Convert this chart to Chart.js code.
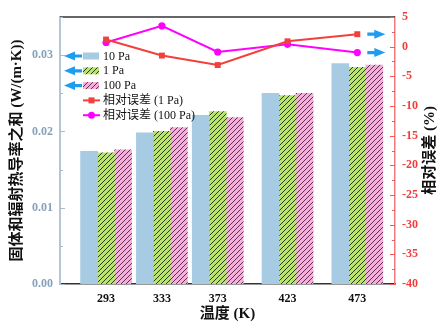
<!DOCTYPE html>
<html><head><meta charset="utf-8">
<script src="https://cdn.jsdelivr.net/npm/chart.js@4.4.0/dist/chart.umd.min.js"></script>
<style>html,body{margin:0;padding:0;background:#fff;}#wrap{width:445px;height:335px;}</style>
</head><body><div id="wrap"><canvas id="c" width="445" height="335"></canvas></div>
<script>
// ---- data ----
const temperatures = [293, 333, 373, 423, 473];
const k10Pa  = [0.0174, 0.0198, 0.0221, 0.0250, 0.0289];
const k1Pa   = [0.0172, 0.0200, 0.0226, 0.0247, 0.0284];
const k100Pa = [0.0176, 0.0205, 0.0218, 0.0250, 0.0287];
const err1Pa   = [1.2, -1.5, -3.1, 0.9, 2.1];
const err100Pa = [0.7, 3.5, -0.9, 0.4, -1.0];
const leftTicks  = [0, 0.01, 0.02, 0.03];
const rightTicks = [5, 0, -5, -10, -15, -20, -25, -30, -35, -40];
const seriesLabels = ['10 Pa', '1 Pa', '100 Pa', '相对误差 (1 Pa)', '相对误差 (100 Pa)'];
const xTitle = '温度 (K)';
const yTitle = '固体和辐射热导率之和 (W/(m·K))';
const y1Title = '相对误差 (%)';

const SERIF = "'Liberation Serif','Noto Sans CJK SC',serif";
const canvas = document.getElementById('c');
const cctx = canvas.getContext('2d');
function hatch(base, line) {
  const s = 5;
  const c = document.createElement('canvas'); c.width = s; c.height = s;
  const g = c.getContext('2d');
  g.fillStyle = base; g.fillRect(0, 0, s, s);
  g.strokeStyle = line; g.lineWidth = 1;
  g.beginPath();
  g.moveTo(0, s); g.lineTo(s, 0);
  g.moveTo(-1, 1); g.lineTo(1, -1);
  g.moveTo(s - 1, s + 1); g.lineTo(s + 1, s - 1);
  g.stroke();
  return cctx.createPattern(c, 'repeat');
}
const blueFill = '#a7cbe3';
const greenFill = hatch('#b9e46e', 'rgba(20,30,10,0.85)');
const pinkFill = hatch('#f7aedb', 'rgba(60,30,60,0.85)');
const redLine = '#f0413c';
const magLine = '#ff00ff';
const arrowColor = '#1e9cf0';

const pts = (ys) => temperatures.map((t, i) => ({x: t, y: ys[i]}));

const decor = {
  id: 'decor',
  afterDraw(chart) {
    const {ctx, chartArea: a, scales} = chart;
    const y = scales.y, y1 = scales.y1;
    ctx.save();
    // top frame line
    ctx.strokeStyle = '#333'; ctx.lineWidth = 1.5;
    ctx.beginPath(); ctx.moveTo(a.left, a.top); ctx.lineTo(a.right, a.top); ctx.stroke();
    // inward ticks, left
    ctx.strokeStyle = '#a9bccd'; ctx.lineWidth = 1;
    for (let i = 0; i < leftTicks.length; i++) {
      const v = leftTicks[i];
      const p = Math.round(y.getPixelForValue(v)) + 0.5;
      ctx.beginPath(); ctx.moveTo(a.left, p); ctx.lineTo(a.left + 5, p); ctx.stroke();
      const m = v + (leftTicks[1] - leftTicks[0]) / 2;
      if (m <= y.max) {
        const q = Math.round(y.getPixelForValue(m)) + 0.5;
        ctx.beginPath(); ctx.moveTo(a.left, q); ctx.lineTo(a.left + 3, q); ctx.stroke();
      }
    }
    // inward ticks, right
    ctx.strokeStyle = '#f05a5a';
    for (let i = 0; i < rightTicks.length; i++) {
      const v = rightTicks[i];
      const p = Math.round(y1.getPixelForValue(v)) + 0.5;
      ctx.beginPath(); ctx.moveTo(a.right, p); ctx.lineTo(a.right - 5, p); ctx.stroke();
      if (i < rightTicks.length - 1) {
        const m = (v + rightTicks[i + 1]) / 2;
        const q = Math.round(y1.getPixelForValue(m)) + 0.5;
        ctx.beginPath(); ctx.moveTo(a.right, q); ctx.lineTo(a.right - 3, q); ctx.stroke();
      }
    }
    // legend
    const lx = a.left + 23, ly0 = a.top + 39, step = 14.8;
    const fills = [blueFill, greenFill, pinkFill];
    ctx.font = '12px ' + SERIF;
    ctx.textBaseline = 'middle'; ctx.textAlign = 'left'; ctx.fillStyle = '#111';
    seriesLabels.forEach((lab, i) => {
      const cy = ly0 + i * step;
      if (i < 3) {
        ctx.fillStyle = fills[i];
        ctx.fillRect(lx, cy - 3.5, 16, 7);
      } else {
        const col = i === 3 ? redLine : magLine;
        ctx.strokeStyle = col; ctx.fillStyle = col; ctx.lineWidth = 2;
        ctx.beginPath(); ctx.moveTo(lx, cy); ctx.lineTo(lx + 17, cy); ctx.stroke();
        ctx.beginPath();
        if (i === 3) ctx.rect(lx + 8.5 - 3, cy - 3, 6, 6);
        else ctx.arc(lx + 8.5, cy, 3.5, 0, Math.PI * 2);
        ctx.fill();
      }
      ctx.fillStyle = '#111';
      ctx.fillText(lab, lx + 20, cy + 0.5);
    });
    // arrows
    function arrow(x1, x2, yy, dir) {
      // dir -1 : tip at x1 (left), +1 : tip at x2 (right)
      ctx.fillStyle = arrowColor;
      const head = 11, hh = 4.5, sh = 1.6;
      ctx.beginPath();
      if (dir < 0) {
        ctx.moveTo(x1, yy);
        ctx.lineTo(x1 + head, yy - hh); ctx.lineTo(x1 + head, yy - sh);
        ctx.lineTo(x2, yy - sh); ctx.lineTo(x2, yy + sh);
        ctx.lineTo(x1 + head, yy + sh); ctx.lineTo(x1 + head, yy + hh);
      } else {
        ctx.moveTo(x2, yy);
        ctx.lineTo(x2 - head, yy - hh); ctx.lineTo(x2 - head, yy - sh);
        ctx.lineTo(x1, yy - sh); ctx.lineTo(x1, yy + sh);
        ctx.lineTo(x2 - head, yy + sh); ctx.lineTo(x2 - head, yy + hh);
      }
      ctx.closePath(); ctx.fill();
    }
    for (let i = 0; i < 3; i++) arrow(a.left + 4, a.left + 22, ly0 + i * step, -1);
    const lastX = chart.scales.x.getPixelForValue(temperatures[temperatures.length - 1]);
    arrow(lastX + 10, lastX + 28, y1.getPixelForValue(err1Pa[err1Pa.length - 1]), 1);
    arrow(lastX + 10, lastX + 28, y1.getPixelForValue(err100Pa[err100Pa.length - 1]), 1);
    // right axis title (reads bottom-to-top)
    ctx.translate(430, (a.top + a.bottom) / 2);
    ctx.rotate(-Math.PI / 2);
    ctx.textAlign = 'center'; ctx.textBaseline = 'middle';
    ctx.fillStyle = '#111';
    ctx.font = 'bold 15px ' + SERIF;
    ctx.fillText(y1Title, 0, 0);
    ctx.restore();
  }
};

new Chart(canvas, {
  type: 'bar',
  data: {
    datasets: [
      {type: 'line', label: seriesLabels[3], data: pts(err1Pa), yAxisID: 'y1', order: 0,
       borderColor: redLine, backgroundColor: redLine, borderWidth: 2, pointStyle: 'rect',
       pointRadius: 4.2, pointBorderWidth: 0, tension: 0},
      {type: 'line', label: seriesLabels[4], data: pts(err100Pa), yAxisID: 'y1', order: 0,
       borderColor: magLine, backgroundColor: magLine, borderWidth: 2, pointStyle: 'circle',
       pointRadius: 3.6, pointBorderWidth: 0, tension: 0},
      {label: seriesLabels[0], data: pts(k10Pa), yAxisID: 'y', order: 1, backgroundColor: blueFill, borderWidth: 0},
      {label: seriesLabels[1], data: pts(k1Pa), yAxisID: 'y', order: 1, backgroundColor: greenFill, borderWidth: 0},
      {label: seriesLabels[2], data: pts(k100Pa), yAxisID: 'y', order: 1, backgroundColor: pinkFill, borderWidth: 0}
    ]
  },
  options: {
    responsive: false,
    animation: false,
    devicePixelRatio: 1,
    barThickness: 17,
    layout: {padding: {top: 17, left: 0, right: 0, bottom: 0}},
    plugins: {legend: {display: false}, tooltip: {enabled: false}},
    scales: {
      x: {
        type: 'linear', min: 260, max: 500, offset: false,
        grid: {display: false, drawTicks: false, offset: false},
        border: {color: '#333', width: 1.5},
        afterBuildTicks: (s) => { s.ticks = temperatures.map(v => ({value: v})); },
        afterFit: (s) => { s.height = 51; },
        ticks: {padding: 8, color: '#111', autoSkip: false, maxRotation: 0,
                font: {family: SERIF, size: 12, weight: 'bold'}, callback: (v) => String(v)},
        title: {display: true, text: xTitle, color: '#111', padding: {top: 0, bottom: 12},
                font: {family: SERIF, size: 15, weight: 'bold'}}
      },
      y: {
        position: 'left', min: 0, max: 0.035,
        grid: {display: false, drawTicks: false},
        border: {color: '#b4c6d6', width: 2},
        afterBuildTicks: (s) => { s.ticks = leftTicks.map(v => ({value: v})); },
        afterFit: (s) => { s.width = 60; },
        ticks: {padding: 7, color: '#86a2ba', font: {family: SERIF, size: 12, weight: 'bold'},
                callback: (v) => Number(v).toFixed(2)},
        title: {display: true, text: yTitle, color: '#111', padding: {top: 8, bottom: 0},
                font: {family: SERIF, size: 15, weight: 'bold'}}
      },
      y1: {
        position: 'right', min: -40, max: 5,
        grid: {display: false, drawTicks: false},
        border: {color: '#f27a7a', width: 1.5},
        afterBuildTicks: (s) => { s.ticks = rightTicks.map(v => ({value: v})); },
        afterFit: (s) => { s.width = 50; },
        ticks: {padding: 7, color: '#f03c3c', font: {family: SERIF, size: 12, weight: 'bold'},
                callback: (v) => String(v)}
      }
    }
  },
  plugins: [decor]
});
</script></body></html>
